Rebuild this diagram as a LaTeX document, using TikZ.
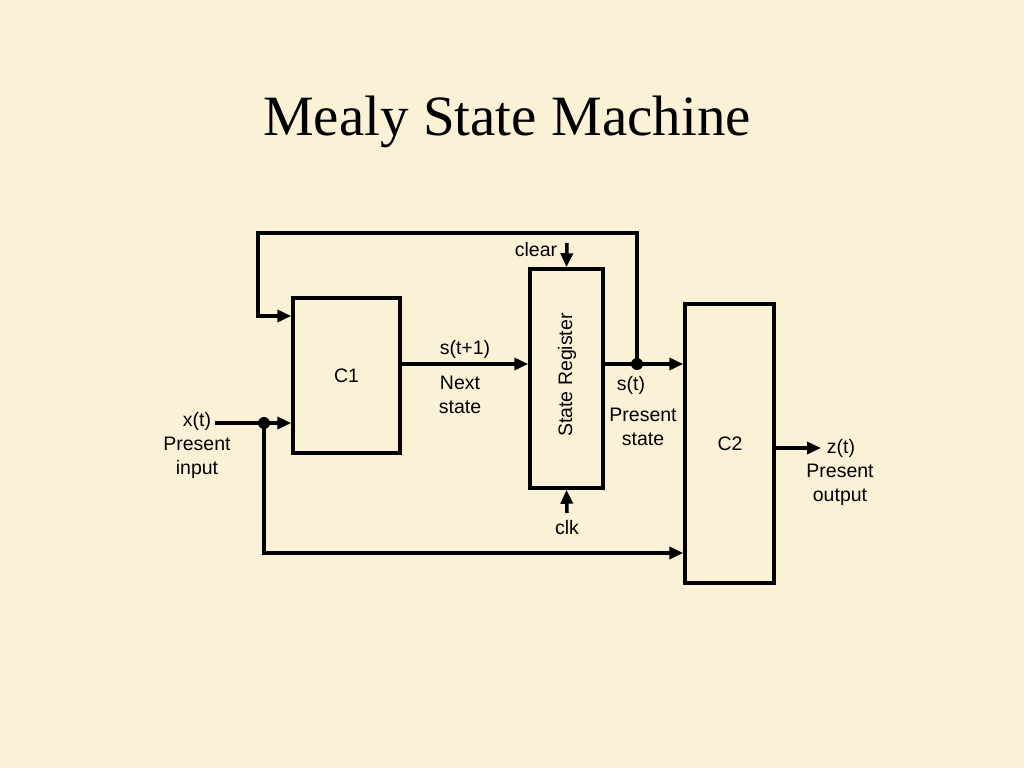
\documentclass[tikz,border=0pt]{standalone}
\usepackage{fontspec}
\setmainfont{Liberation Sans}
\newfontfamily\titlefont{Liberation Serif}
\usetikzlibrary{arrows.meta}
\definecolor{bg}{RGB}{251,241,214}
\begin{document}
\begin{tikzpicture}[x=1pt,y=-1pt,
  wire/.style={line width=3.5pt},
  arr/.style={line width=3.5pt,line join=miter,-{Triangle[length=14pt,width=12pt]}},
  blk/.style={draw,line width=3.5pt,inner sep=0pt},
  lbl/.style={font=\fontsize{19.5}{24}\selectfont,align=center,inner sep=0pt},
  dot/.style={circle,fill,inner sep=0pt,minimum size=12pt}]
\fill[bg] (0,0) rectangle (1024,768);
\useasboundingbox (0,0) rectangle (1024,768);
\node[font=\titlefont\fontsize{57}{60}\selectfont] (title) at (507,122) {Mealy State Machine};
% blocks
\node[blk,minimum width=107pt,minimum height=155pt] (c1) at (346.5,375.5) {};
\node[lbl] (c1t) at (346.5,376) {C1};
\node[blk,minimum width=73pt,minimum height=219pt] (sr) at (566.5,378.5) {};
\node[lbl,rotate=90] (srt) at (567,375) {State Register};
\node[blk,minimum width=89pt,minimum height=279pt] (c2) at (729.5,443.5) {};
\node[lbl] (c2t) at (730,444) {C2};
% coordinates
\coordinate (xin) at (215,423);
\coordinate (j1) at (264,423);
\coordinate (j2) at (637,364);
\coordinate (fbtl) at (258,233);
\coordinate (fbtr) at (637,233);
\coordinate (fbl) at (258,316);
\coordinate (bl) at (264,553);
\coordinate (clr) at (567,243);
\coordinate (clk) at (567,513);
\coordinate (zout) at (821,448);
% wires
\draw[wire] (xin) -- (j1);
\draw[arr] (j1) -- (j1 -| c1.west);
\draw[arr] (j2) -- (fbtr) -- (fbtl) -- (fbl) -- (fbl -| c1.west);
\draw[arr] (j1) -- (bl) -- (bl -| c2.west);
\draw[arr] (c1.east |- j2) -- (sr.west |- j2);
\draw[wire] (sr.east |- j2) -- (j2);
\draw[arr] (j2) -- (c2.west |- j2);
\draw[arr] (clr) -- (sr.north);
\draw[arr] (clk) -- (sr.south);
\draw[arr] (c2.east |- zout) -- (zout);
\node[dot] (d1) at (j1) {};
\node[dot] (d2) at (j2) {};
% labels
\node[lbl] (xl) at (197,421) {x(t)};
\node[lbl] (xl2) at (197,458) {Present\\input};
\node[lbl] (s1) at (465,349) {s(t+1)};
\node[lbl] (s1b) at (460,395) {Next\\state};
\node[lbl] (cl) at (536,250) {clear};
\node[lbl] (ck) at (567,528) {clk};
\node[lbl] (st) at (631,385) {s(t)};
\node[lbl] (stb) at (643,427) {Present\\state};
\node[lbl] (zl) at (841,448) {z(t)};
\node[lbl] (zlb) at (840,485) {Present\\output};
\end{tikzpicture}
\end{document}
